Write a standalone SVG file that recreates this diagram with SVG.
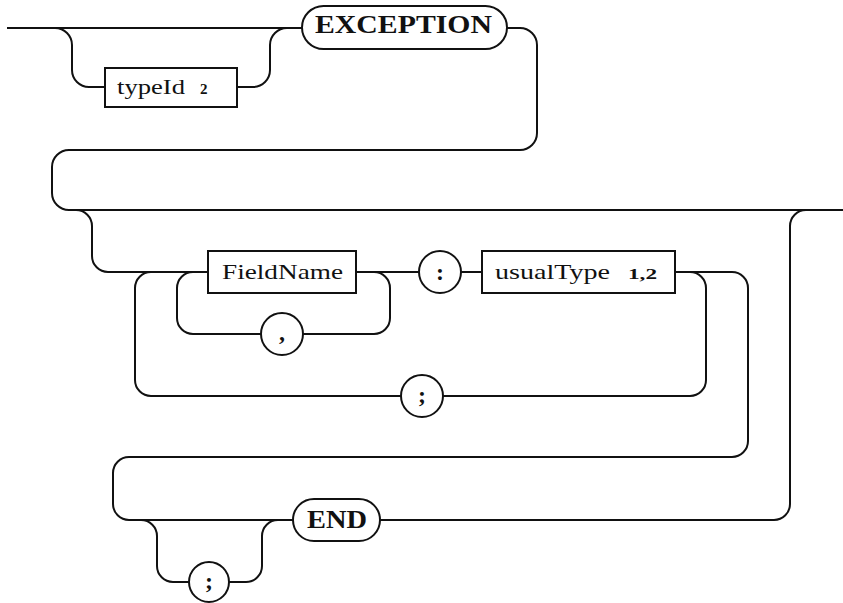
<svg xmlns="http://www.w3.org/2000/svg" width="843" height="603" viewBox="0 0 843 603">
<style>
.ln{fill:none;stroke:#111;stroke-width:2}
.bx{fill:#fff;stroke:#111;stroke-width:2}
.nt{font-family:"Liberation Serif",serif;font-size:22px;fill:#111}
.sm{font-family:"Liberation Serif",serif;font-size:15px;font-weight:bold;fill:#111}
.kw{font-family:"Liberation Serif",serif;font-size:25px;font-weight:bold;fill:#111}
.pu{font-family:"Liberation Serif",serif;font-size:24px;font-weight:bold;fill:#111;text-anchor:middle}
</style>
<rect width="843" height="603" fill="#fff"/>
<g id="connectors">
<path class="ln" d="M7 28 L302 28"/>
<path class="ln" d="M55 28 A17 17 0 0 1 72 45 L72 70 A17 17 0 0 0 89 87 L105 87"/>
<path class="ln" d="M237 87 L253 87 A17 17 0 0 0 270 70 L270 45 A17 17 0 0 1 287 28"/>
<path class="ln" d="M507 28 L520 28 A17 17 0 0 1 537 45 L537 133 A17 17 0 0 1 520 150 L69 150 A17 17 0 0 0 52 167 L52 193 A17 17 0 0 0 69 210 L843 210"/>
<path class="ln" d="M76 210 A16 16 0 0 1 92 226 L92 256 A16 16 0 0 0 108 272 L208 272"/>
<path class="ln" d="M356 272 L419 272"/>
<path class="ln" d="M461 272 L482 272"/>
<path class="ln" d="M675 272 L732 272 A16 16 0 0 1 748 288 L748 441 A16 16 0 0 1 732 457 L129 457 A16 16 0 0 0 113 473 L113 504 A16 16 0 0 0 129 520 L293 520"/>
<path class="ln" d="M690 272 A16 16 0 0 1 706 288 L706 380 A16 16 0 0 1 690 396 L443 396"/>
<path class="ln" d="M401 396 L151 396 A16 16 0 0 1 135 380 L135 288 A16 16 0 0 1 151 272"/>
<path class="ln" d="M193 272 A16 16 0 0 0 177 288 L177 318 A16 16 0 0 0 193 334 L261 334"/>
<path class="ln" d="M303 334 L374 334 A16 16 0 0 0 390 318 L390 288 A16 16 0 0 0 374 272"/>
<path class="ln" d="M380 520 L774 520 A16 16 0 0 0 790 504 L790 226 A16 16 0 0 1 806 210"/>
<path class="ln" d="M141 520 A16 16 0 0 1 157 536 L157 566 A16 16 0 0 0 173 582 L189 582"/>
<path class="ln" d="M229 582 L246 582 A16 16 0 0 0 262 566 L262 536 A16 16 0 0 1 278 520"/>
</g>
<g id="typeId">
<rect class="bx" x="105" y="68" width="132" height="39"/>
<text class="nt" x="117" y="94" textLength="68" lengthAdjust="spacingAndGlyphs">typeId</text>
<text class="sm" x="200" y="94">2</text>
</g>
<g id="EXCEPTION">
<rect class="bx" x="302" y="6" width="205" height="43" rx="21.5"/>
<text class="kw" x="315" y="33" textLength="177" lengthAdjust="spacingAndGlyphs">EXCEPTION</text>
</g>
<g id="FieldName">
<rect class="bx" x="208" y="251" width="148" height="42"/>
<text class="nt" x="222" y="279" textLength="121" lengthAdjust="spacingAndGlyphs">FieldName</text>
</g>
<g id="comma">
<circle class="bx" cx="282" cy="334" r="21"/>
<text class="pu" x="282" y="340">,</text>
</g>
<g id="colon">
<circle class="bx" cx="440" cy="272" r="21"/>
<text class="pu" x="440" y="280">:</text>
</g>
<g id="usualType">
<rect class="bx" x="482" y="251" width="193" height="42"/>
<text class="nt" x="495" y="279" textLength="115" lengthAdjust="spacingAndGlyphs">usualType</text>
<text class="sm" x="628" y="279" textLength="29" lengthAdjust="spacingAndGlyphs">1,2</text>
</g>
<g id="semicolon1">
<circle class="bx" cx="422" cy="396" r="21"/>
<text class="pu" x="422" y="403">;</text>
</g>
<g id="END">
<rect class="bx" x="293" y="499" width="87" height="42" rx="21"/>
<text class="kw" x="307" y="528" textLength="60" lengthAdjust="spacingAndGlyphs">END</text>
</g>
<g id="semicolon2">
<circle class="bx" cx="209" cy="582" r="20"/>
<text class="pu" x="209" y="589">;</text>
</g>
</svg>
